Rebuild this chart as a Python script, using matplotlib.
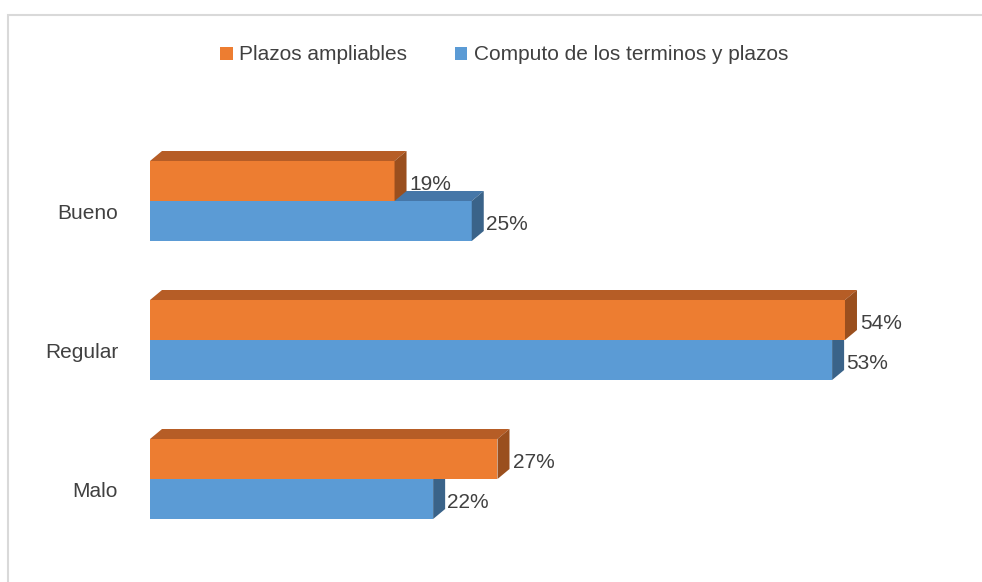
import numpy as np
import matplotlib.pyplot as plt
from matplotlib.patches import Polygon, Rectangle, Patch

plt.rcParams['font.family'] = ['Liberation Sans', 'DejaVu Sans']

categorias = ['Bueno', 'Regular', 'Malo']
plazos_ampliables = [19, 54, 27]
computo_terminos = [25, 53, 22]
series = ['Plazos ampliables', 'Computo de los terminos y plazos']

# colores: frente, techo, lado
naranja = ('#ED7D31', '#B65D26', '#9A4F1E')
azul = ('#5B9BD5', '#4677A8', '#3A6389')
gris_texto = '#404040'

W, H = 982, 582
fig = plt.figure(figsize=(W / 100, H / 100), dpi=100)

# geometria en pixeles
x0_px, px_por_pct = 150, 12.87
paso_px = 139
centro0_px = 201
xmax = 64
ax_w = xmax * px_por_pct
ax_h = 3 * paso_px
ax_top = centro0_px - 0.5 * paso_px
ax = fig.add_axes([x0_px / W, 1 - (ax_top + ax_h) / H, ax_w / W, ax_h / H])
ax.set_xlim(0, xmax)
ax.set_ylim(2.5, -0.5)

h = 40 / paso_px
dx = 12 / px_por_pct
dy = 10 / paso_px


def barra3d(v, ya, yb, cols):
    # ya = borde superior en pantalla, yb = borde inferior
    frente = Polygon([(0, ya), (v, ya), (v, yb), (0, yb)], closed=True, fc=cols[0], ec='none')
    techo = Polygon([(0, ya), (v, ya), (v + dx, ya - dy), (dx, ya - dy)], closed=True, fc=cols[1], ec='none')
    lado = Polygon([(v, ya), (v + dx, ya - dy), (v + dx, yb - dy), (v, yb)], closed=True, fc=cols[2], ec='none')
    for p in (frente, techo, lado):
        ax.add_patch(p)


ypos = np.arange(len(categorias))
for i, c in enumerate(ypos):
    # azul primero (queda detras)
    barra3d(computo_terminos[i], c, c + h, azul)
    barra3d(plazos_ampliables[i], c - h, c, naranja)
    ax.text(plazos_ampliables[i] + dx + 0.25, c - h / 2 - dy / 2 + 0.063, '%d%%' % plazos_ampliables[i],
            va='center', ha='left', fontsize=15, color=gris_texto, zorder=5)
    ax.text(computo_terminos[i] + dx + 0.15, c + h / 2 - dy / 2 + 0.063, '%d%%' % computo_terminos[i],
            va='center', ha='left', fontsize=15, color=gris_texto, zorder=5)

ax.set_yticks(ypos + 10 / paso_px)
ax.set_yticklabels(categorias, fontsize=15, color=gris_texto)
ax.tick_params(axis='y', length=0, pad=23)
ax.set_xticks([])
for s in ax.spines.values():
    s.set_visible(False)
ax.patch.set_visible(False)

handles = [Patch(fc=naranja[0], ec='none'), Patch(fc=azul[0], ec='none')]
fig.legend(handles, series, loc='center', bbox_to_anchor=(504 / W, 1 - 55 / H), ncol=2,
           frameon=False, fontsize=15, handlelength=0.6, handleheight=0.6, handletextpad=0.3,
           columnspacing=2.3, labelcolor=gris_texto)

# marco del grafico
fig.patches.append(Rectangle((8 / W, -0.05), 1.1, 1 - 15 / H + 0.05, transform=fig.transFigure,
                             fill=False, ec='#D9D9D9', lw=1.5))

fig.savefig('out.png', dpi=100)
